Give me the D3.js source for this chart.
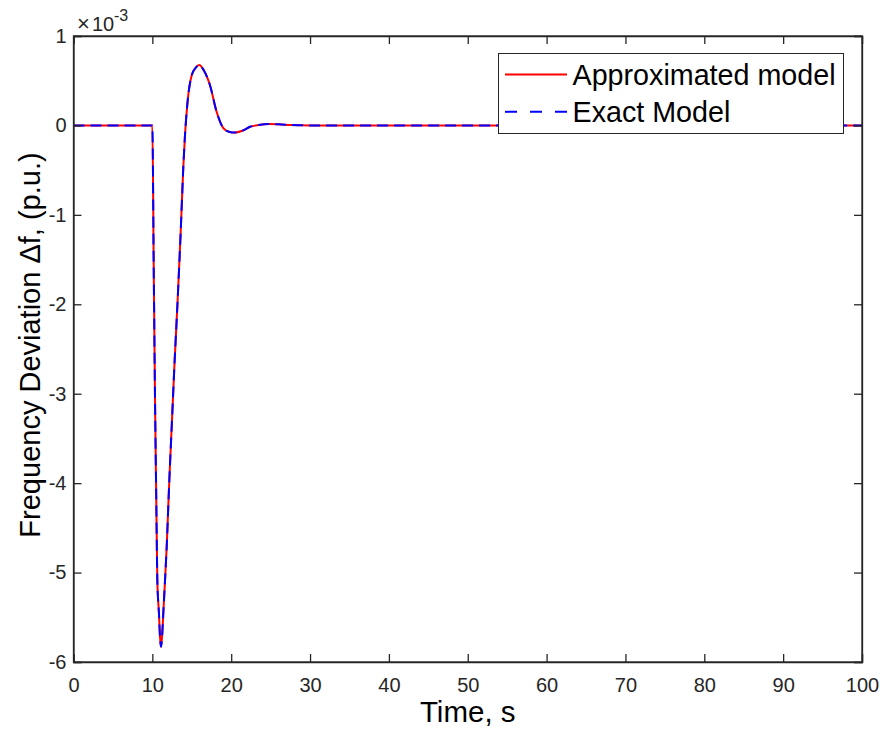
<!DOCTYPE html>
<html><head><meta charset="utf-8">
<script src="https://cdn.jsdelivr.net/npm/d3@7"></script>
<style>body{margin:0;background:#fff}svg{display:block;font-family:"Liberation Sans",Arial,sans-serif}</style>
</head><body>
<script>
const time = [0, 10, 10.17, 10.34, 10.5, 10.63, 10.84, 10.97, 11.1, 11.26, 11.39, 11.6, 11.82, 12.15, 12.53, 12.79, 13.21, 13.59, 13.93, 14.14, 14.45, 14.99, 15.5, 15.96, 16.5, 17.31, 18.16, 19.0, 19.7, 20.48, 21.4, 22.4, 23.5, 24.7, 26, 27.5, 30, 100];
const approxModel = [0, 0, -1.55, -3.07, -4.2, -5.08, -5.46, -5.72, -5.83, -5.68, -5.45, -5.1, -4.71, -3.97, -3.22, -2.70, -1.95, -1.20, -0.46, -0.11, 0.25, 0.56, 0.645, 0.675, 0.62, 0.45, 0.15, -0.03, -0.07, -0.08, -0.06, -0.015, 0.005, 0.015, 0.012, 0.005, 0, 0];
const exactModel = [0, 0, -1.55, -3.07, -4.2, -5.08, -5.46, -5.72, -5.83, -5.68, -5.45, -5.1, -4.71, -3.97, -3.22, -2.70, -1.95, -1.20, -0.46, -0.11, 0.25, 0.56, 0.645, 0.675, 0.62, 0.45, 0.15, -0.03, -0.07, -0.08, -0.06, -0.015, 0.005, 0.015, 0.012, 0.005, 0, 0];
const xTicks = [0, 10, 20, 30, 40, 50, 60, 70, 80, 90, 100];
const yTicks = [1, 0, -1, -2, -3, -4, -5, -6];
const seriesNames = ["Approximated model", "Exact Model"];

const W = 880, H = 736;
const m = {left: 73.5, right: 862, top: 36, bottom: 662};
const svg = d3.select("body").append("svg").attr("width", W).attr("height", H);
const x = d3.scaleLinear().domain([0, 100]).range([m.left, m.right]);
const y = d3.scaleLinear().domain([-6, 1]).range([m.bottom, m.top]);
const axisColor = "#262626";
const FONT = "Liberation Sans, Arial, sans-serif";

const line = d3.line().x((d, i) => x(time[i])).y(d => y(d)).curve(d3.curveMonotoneX);
svg.append("path").datum(approxModel).attr("d", line).attr("fill", "none").attr("stroke", "#ff0000").attr("stroke-width", 2);
svg.append("path").datum(exactModel).attr("d", line).attr("fill", "none").attr("stroke", "#0000ff").attr("stroke-width", 2).attr("stroke-dasharray", "11,6");

const tl = 8;
const gx = svg.append("g").attr("transform", `translate(0,${m.bottom})`)
  .call(d3.axisBottom(x).tickValues(xTicks).tickSize(-tl).tickPadding(15.5).tickFormat(d3.format("d")));
const gxt = svg.append("g").attr("transform", `translate(0,${m.top})`)
  .call(d3.axisTop(x).tickValues(xTicks).tickSize(-tl).tickFormat(""));
const gy = svg.append("g").attr("transform", `translate(${m.left},0)`)
  .call(d3.axisLeft(y).tickValues(yTicks).tickSize(-tl).tickPadding(7).tickFormat(d => d < 0 ? "-" + Math.abs(d) : d));
const gyr = svg.append("g").attr("transform", `translate(${m.right},0)`)
  .call(d3.axisRight(y).tickValues(yTicks).tickSize(-tl).tickFormat(""));
[gx, gxt, gy, gyr].forEach(g => {
  g.select(".domain").attr("stroke", axisColor).attr("stroke-width", 1.3);
  g.selectAll(".tick line").attr("stroke", axisColor).attr("stroke-width", 1.3);
  g.selectAll(".tick text").attr("fill", axisColor).attr("font-size", 20).attr("font-family", FONT);
});
svg.append("rect").attr("x", m.left).attr("y", m.top).attr("width", m.right - m.left).attr("height", m.bottom - m.top)
  .attr("fill", "none").attr("stroke", axisColor).attr("stroke-width", 1.3);

// exponent (separate text pieces)
svg.append("text").attr("x", 77).attr("y", 31).attr("fill", axisColor).attr("font-size", 22).attr("font-family", FONT).text("×");
svg.append("text").attr("x", 92).attr("y", 31).attr("fill", axisColor).attr("font-size", 20).attr("font-family", FONT).text("10");
svg.append("text").attr("x", 114).attr("y", 21).attr("fill", axisColor).attr("font-size", 16).attr("font-family", FONT).text("-3");

// axis labels
svg.append("text").attr("x", (m.left + m.right) / 2).attr("y", 722).attr("text-anchor", "middle")
  .attr("font-size", 29.5).attr("font-family", FONT).attr("fill", "#000").text("Time, s");
svg.append("text").attr("transform", `translate(40,345) rotate(-90)`).attr("text-anchor", "middle")
  .attr("font-size", 29).attr("font-family", FONT).attr("fill", "#000").text("Frequency Deviation Δf, (p.u.)");

// legend
const lg = svg.append("g");
lg.append("rect").attr("x", 498.5).attr("y", 53.5).attr("width", 345).attr("height", 80).attr("fill", "#fff").attr("stroke", axisColor).attr("stroke-width", 1);
const colors = ["#ff0000", "#0000ff"];
const dash = [null, "12,13"];
seriesNames.forEach((n, i) => {
  const cy = 74.5 + i * 37.3;
  lg.append("line").attr("x1", 505).attr("x2", 567).attr("y1", cy).attr("y2", cy).attr("stroke", colors[i]).attr("stroke-width", 2).attr("stroke-dasharray", dash[i]);
  lg.append("text").attr("x", 572.5).attr("y", cy + 10.5).attr("font-size", 28.7).attr("font-family", FONT).attr("fill", "#000").text(n);
});
</script>
</body></html>
